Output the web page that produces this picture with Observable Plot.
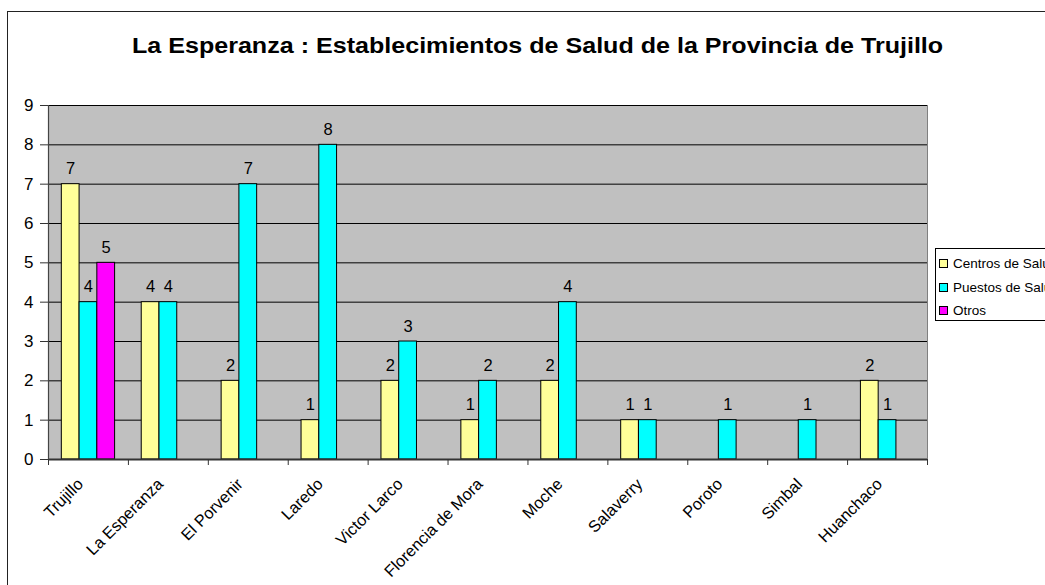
<!DOCTYPE html>
<html>
<head>
<meta charset="utf-8">
<script src="https://cdn.jsdelivr.net/npm/d3@7"></script>
<script src="https://cdn.jsdelivr.net/npm/@observablehq/plot@0.6"></script>
<style>
  html, body { margin: 0; padding: 0; background: #fff; }
  #wrap { position: relative; width: 1045px; height: 585px; overflow: hidden; font-family: "Liberation Sans", Arial, sans-serif; }
  #border { position: absolute; left: 7px; top: 11px; width: 1100px; height: 700px; border-left: 1.5px solid #222; border-top: 1.5px solid #222; }
  #title { position: absolute; left: 0; width: 1075px; top: 33px; text-align: center; font-weight: bold; font-size: 22px; color: #000; transform: scaleX(1.14); transform-origin: 537px 0; white-space: nowrap; }
  #chart { position: absolute; left: 0; top: 0; }
  #legend { position: absolute; left: 935px; top: 248px; width: 200px; height: 71px; border: 1px solid #000; background: #fff; font-size: 13.5px; }
  .item { position: absolute; left: 3px; height: 16px; line-height: 16px; white-space: nowrap; }
  .sw { display: inline-block; width: 7px; height: 7px; border: 1px solid #000; margin-right: 5px; vertical-align: 0px; }
</style>
</head>
<body>
<div id="wrap">
  <div id="border"></div>
  <div id="chart"></div>
  <div id="title"></div>
  <div id="legend"></div>
</div>
<script>
const titleText = "La Esperanza : Establecimientos de Salud de la Provincia de Trujillo";
const categories = ["Trujillo", "La Esperanza", "El Porvenir", "Laredo", "Victor Larco", "Florencia de Mora", "Moche", "Salaverry", "Poroto", "Simbal", "Huanchaco"];
const seriesNames = ["Centros de Salud", "Puestos de Salud", "Otros"];
const centros = [7, 4, 2, 1, 2, 1, 2, 1, 0, 0, 2];
const puestos = [4, 4, 7, 8, 3, 2, 4, 1, 1, 1, 1];
const otros = [5, 0, 0, 0, 0, 0, 0, 0, 0, 0, 0];
const seriesColors = ["#FFFF99", "#00FFFF", "#FF00FF"];
const yTicks = [0, 1, 2, 3, 4, 5, 6, 7, 8, 9];

const seriesValues = [centros, puestos, otros];
const data = [];
seriesValues.forEach((vals, s) => vals.forEach((v, i) => data.push({i, s, v, cat: categories[i], series: seriesNames[s]})));
const shown = data.filter(d => d.v > 0);

// Excel-like grouping: gap width 150% -> 3 bars + 1.5 bar gap per category
const barFrac = 1 / 4.5;
const halfGap = 0.75 / 4.5;
const left = d => d.i + halfGap + d.s * barFrac;

const plot = Plot.plot({
  width: 1045,
  height: 585,
  marginLeft: 48,
  marginRight: 118,
  marginTop: 105,
  marginBottom: 126,
  style: {fontFamily: "Liberation Sans, Arial, sans-serif", background: "transparent", overflow: "visible"},
  x: {type: "linear", domain: [0, categories.length], axis: null},
  y: {domain: [0, 9], axis: null},
  color: {domain: seriesNames, range: seriesColors},
  marks: [
    Plot.frame({fill: "#C0C0C0", stroke: "#808080"}),
    Plot.ruleY(yTicks, {stroke: "#000", strokeWidth: 1}),
    Plot.rectY(shown, {x1: left, x2: d => left(d) + barFrac, y: "v", fill: "series", stroke: "#000", strokeWidth: 1}),
    Plot.text(shown, {x: d => left(d) + barFrac / 2, y: "v", text: d => String(d.v), lineAnchor: "bottom", dy: -10, fontSize: 16.5, fill: "#000"}),
    Plot.ruleY([0], {stroke: "#333", strokeWidth: 2}),
    Plot.ruleX([0], {stroke: "#444", strokeWidth: 1.2}),
    Plot.axisY({ticks: yTicks, tickSize: 8, tickPadding: 7, fontSize: 17, stroke: "#333", label: null}),
    Plot.axisX({ticks: d3.range(categories.length + 1), tickSize: 6, tickFormat: () => "", stroke: "#333", label: null}),
    Plot.axisX({ticks: categories.map((_, i) => i + 0.5), tickFormat: t => categories[Math.floor(t)], tickSize: 0, tickPadding: 22, tickRotate: -45, fontSize: 16.3, dx: -8, label: null})
  ]
});
document.getElementById("chart").appendChild(plot);
document.getElementById("title").textContent = titleText;

const legend = document.getElementById("legend");
const rowTops = [7, 31, 54];
seriesNames.forEach((name, s) => {
  const item = document.createElement("div");
  item.className = "item";
  item.style.top = rowTops[s] + "px";
  const sw = document.createElement("span");
  sw.className = "sw";
  sw.style.background = seriesColors[s];
  item.appendChild(sw);
  item.appendChild(document.createTextNode(name));
  legend.appendChild(item);
});
</script>
</body>
</html>
